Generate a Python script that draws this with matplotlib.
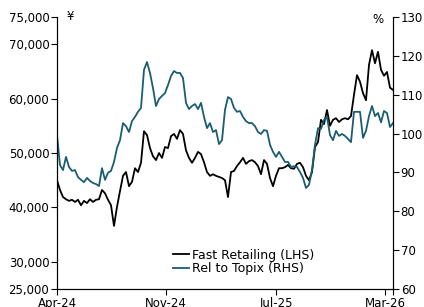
import matplotlib
matplotlib.use("Agg")
import matplotlib.pyplot as plt
from matplotlib.ticker import FuncFormatter

# Fast Retailing share price (yen, thousands) - left axis
fast_retailing = [
    45.0, 43.2, 41.9, 41.5, 41.2, 41.4, 41.0, 41.4, 40.4, 41.2, 40.8, 41.5, 41.0, 41.4, 41.5, 43.2,
    42.6, 41.4, 40.4, 36.6, 40.1, 43.0, 45.8, 46.5, 43.9, 44.7, 47.2, 46.5, 48.2, 54.0, 53.3, 50.9,
    49.4, 48.7, 50.0, 49.1, 51.1, 50.9, 53.1, 53.5, 52.6, 54.2, 53.5, 50.5, 49.1, 48.2, 49.1, 50.2,
    49.8, 48.3, 46.5, 45.8, 46.1, 45.8, 45.6, 45.4, 45.0, 41.9, 46.5, 46.7, 47.6, 48.3, 49.1, 48.0,
    48.5, 48.7, 48.3, 47.6, 46.1, 48.7, 48.0, 45.4, 43.9, 45.8, 47.2, 47.2, 47.4, 47.8, 47.2, 47.1,
    48.0, 48.2, 47.4, 45.8, 45.0, 46.5, 51.1, 52.0, 56.1, 55.3, 57.9, 55.0, 56.1, 56.4, 55.7, 56.2,
    56.4, 56.2, 56.8, 60.7, 64.3, 63.1, 61.0, 59.7, 66.2, 68.9, 66.5, 68.6, 65.3, 64.2, 64.9, 62.0,
    61.6,
]

# Relative performance vs Topix (%) - right axis
rel_topix = [
    99.6, 91.9, 90.6, 94.0, 91.4, 90.4, 90.6, 88.8, 88.1, 87.5, 88.6, 87.8, 87.3, 87.0, 86.5, 91.1,
    88.1, 89.9, 90.4, 92.7, 96.3, 98.3, 102.7, 101.9, 100.4, 103.2, 104.3, 105.6, 106.6, 116.4, 118.4, 115.6,
    111.7, 107.1, 108.9, 109.7, 110.4, 112.5, 114.8, 116.1, 115.6, 115.6, 114.3, 107.9, 106.3, 107.1, 107.6, 106.3,
    107.9, 104.3, 101.4, 102.7, 100.4, 100.9, 97.3, 98.3, 106.1, 109.4, 108.9, 106.6, 105.6, 105.8, 104.3, 103.2,
    102.7, 102.7, 101.9, 100.4, 99.9, 100.9, 100.7, 97.1, 95.3, 94.0, 95.3, 94.0, 92.7, 92.7, 91.4, 91.6,
    91.4, 90.1, 88.6, 86.0, 86.8, 90.6, 97.1, 101.4, 101.2, 103.5, 104.3, 99.6, 98.3, 100.7, 99.4, 99.9,
    99.4, 98.6, 97.8, 105.6, 105.6, 105.6, 98.9, 100.7, 104.5, 107.1, 104.5, 105.3, 102.9, 105.8, 105.3, 101.7,
    102.7,
]

tick_labels = ["Apr-24", "Nov-24", "Jul-25", "Mar-26"]
tick_pos = [0, 36.3, 73, 109.3]

x = list(range(len(fast_retailing)))
fs = 8.5

fig = plt.figure(figsize=(4.24, 3.07), dpi=100)
ax = fig.add_axes([57 / 424, 1 - 289 / 307, 336 / 424, 272 / 307])
ax2 = ax.twinx()

teal = "#1a5d72"
l1, = ax.plot(x, [v * 1000 for v in fast_retailing], color="black", lw=1.3, label="Fast Retailing (LHS)")
l2, = ax2.plot(x, rel_topix, color=teal, lw=1.3, label="Rel to Topix (RHS)")

ax.set_xlim(0, len(x) - 1)
ax.set_ylim(25000, 75000)
ax2.set_ylim(60, 130)

ax.set_yticks([25000, 30000, 40000, 50000, 60000, 70000, 75000])
ax.yaxis.set_major_formatter(FuncFormatter(lambda v, p: f"{int(v):,}"))
ax2.set_yticks(range(60, 131, 10))

ax.set_xticks(tick_pos + [len(x) - 1])
ax.set_xticklabels(tick_labels + [""])

for a in (ax, ax2):
    a.spines["top"].set_visible(False)
    a.tick_params(labelsize=fs, length=4, width=0.8, pad=1.5)

ax.text(0.04, 1.0, "¥", transform=ax.transAxes, fontsize=fs, ha="center", va="center")
ax2.text(0.955, 0.99, "%", transform=ax.transAxes, fontsize=fs, ha="center", va="center")

ax2.legend(handles=[l1, l2], loc="lower left", bbox_to_anchor=(0.345, 0.05),
           frameon=False, fontsize=9, handlelength=1.25, handletextpad=0.3,
           labelspacing=0.05, borderpad=0, borderaxespad=0)

fig.savefig("out.png", dpi=100)
